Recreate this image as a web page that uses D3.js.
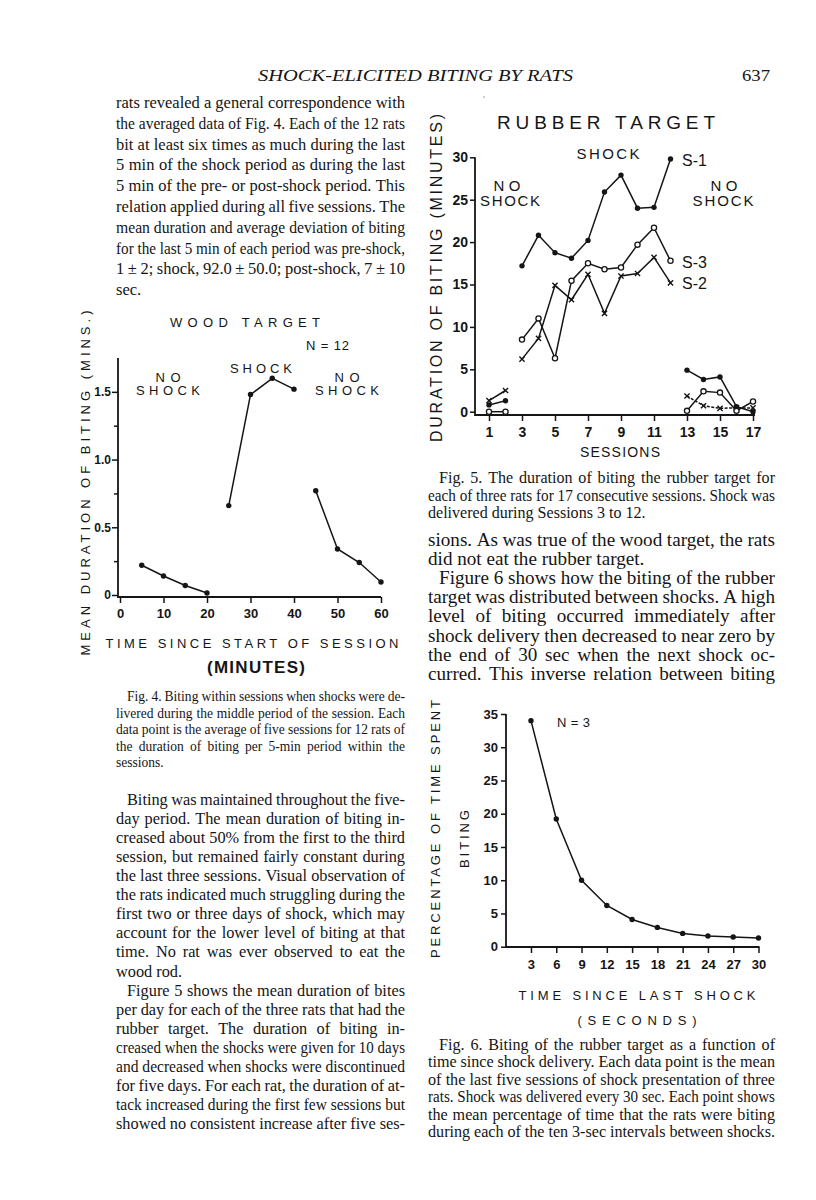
<!doctype html>
<html>
<head>
<meta charset="utf-8">
<script src="https://d3js.org/d3.v7.min.js"></script>
<style>
    body { margin: 0; background: #fff; }
</style>
</head>
<body>
<svg width="816" height="1200" id="page"></svg>
<script>
// ---- Fig. 4, wood target (minutes into session / mean minutes biting)
var woodPreX = [5, 10, 15, 20];
var woodPreY = [0.22, 0.14, 0.07, 0.015];
var woodShockX = [25, 30, 35, 40];
var woodShockY = [0.66, 1.48, 1.6, 1.52];
var woodPostX = [45, 50, 55, 60];
var woodPostY = [0.77, 0.34, 0.24, 0.096];
var woodXTicks = [0, 10, 20, 30, 40, 50, 60];
var woodYTicks = [0, 0.5, 1.0, 1.5];
var woodYLabels = ["0", "0.5", "1.0", "1.5"];
var woodYMinor = [0.25, 0.75, 1.25];

// ---- Fig. 5, rubber target (session / minutes biting)
var sessPre = [1, 2];
var sessShock = [3, 4, 5, 6, 7, 8, 9, 10, 11, 12];
var sessPost = [13, 14, 15, 16, 17];
var s1Pre = [0.8, 1.3];
var s2Pre = [1.3, 2.5];
var s3Pre = [0, 0];
var s1Shock = [17.2, 20.8, 18.75, 18.1, 20.2, 25.9, 27.9, 24.0, 24.1, 29.8];
var s2Shock = [6.2, 8.65, 14.9, 13.2, 16.2, 11.6, 16.0, 16.3, 18.2, 15.2];
var s3Shock = [8.5, 11.0, 6.3, 15.45, 17.5, 16.8, 17.0, 19.7, 21.7, 17.8];
var s1Post = [4.9, 3.8, 4.1, 0.6, 0];
var s2Post = [1.85, 0.7, 0.4, 0.45, 0.45];
var s3Post = [0.1, 2.4, 2.25, 0.1, 1.2];
var rubberXTicks = [1, 3, 5, 7, 9, 11, 13, 15, 17];
var rubberYTicks = [0, 5, 10, 15, 20, 25, 30];

// ---- Fig. 6, seconds since shock / percentage of time biting
var secs = [3, 6, 9, 12, 15, 18, 21, 24, 27, 30];
var pctBiting = [34.0, 19.2, 10.0, 6.2, 4.1, 2.9, 2.0, 1.6, 1.45, 1.3];
var secXTicks = [3, 6, 9, 12, 15, 18, 21, 24, 27, 30];
var pctYTicks = [0, 5, 10, 15, 20, 25, 30, 35];

// ---- page text
var topPara = [
    "rats revealed a general correspondence with",
    "the averaged data of Fig. 4. Each of the 12 rats",
    "bit at least six times as much during the last",
    "5 min of the shock period as during the last",
    "5 min of the pre- or post-shock period. This",
    "relation applied during all five sessions. The",
    "mean duration and average deviation of biting",
    "for the last 5 min of each period was pre-shock,",
    "1 \u00b1 2; shock, 92.0 \u00b1 50.0; post-shock, 7 \u00b1 10",
    "sec."
];
var fig4Caption = [
    "Fig. 4. Biting within sessions when shocks were de-",
    "livered during the middle period of the session. Each",
    "data point is the average of five sessions for 12 rats of",
    "the duration of biting per 5-min period within the",
    "sessions."
];
var leftBody = [
    "Biting was maintained throughout the five-",
    "day period. The mean duration of biting in-",
    "creased about 50% from the first to the third",
    "session, but remained fairly constant during",
    "the last three sessions. Visual observation of",
    "the rats indicated much struggling during the",
    "first two or three days of shock, which may",
    "account for the lower level of biting at that",
    "time. No rat was ever observed to eat the",
    "wood rod.",
    "Figure 5 shows the mean duration of bites",
    "per day for each of the three rats that had the",
    "rubber target. The duration of biting in-",
    "creased when the shocks were given for 10 days",
    "and decreased when shocks were discontinued",
    "for five days. For each rat, the duration of at-",
    "tack increased during the first few sessions but",
    "showed no consistent increase after five ses-"
];
var fig5Caption = [
    "Fig. 5. The duration of biting the rubber target for",
    "each of three rats for 17 consecutive sessions. Shock was",
    "delivered during Sessions 3 to 12."
];
var rightBody = [
    "sions. As was true of the wood target, the rats",
    "did not eat the rubber target.",
    "Figure 6 shows how the biting of the rubber",
    "target was distributed between shocks. A high",
    "level of biting occurred immediately after",
    "shock delivery then decreased to near zero by",
    "the end of 30 sec when the next shock oc-",
    "curred. This inverse relation between biting"
];
var fig6Caption = [
    "Fig. 6. Biting of the rubber target as a function of",
    "time since shock delivery. Each data point is the mean",
    "of the last five sessions of shock presentation of three",
    "rats. Shock was delivered every 30 sec. Each point shows",
    "the mean percentage of time that the rats were biting",
    "during each of the ten 3-sec intervals between shocks."
];

var SANS = "'Liberation Sans', Arial, sans-serif";
var SERIF = "'Liberation Serif', 'Times New Roman', serif";
var INK = "#151515";

var svg = d3.select("#page");
svg.append("rect").attr("width", 816).attr("height", 1200).attr("fill", "#fff");

function label(x, y, txt, o) {
    o = o || {};
    var t = svg.append("text")
        .attr("x", x).attr("y", y)
        .attr("font-family", o.family || SANS)
        .attr("font-size", o.size || 13)
        .attr("font-weight", o.weight || "normal")
        .attr("font-style", o.style || "normal")
        .attr("text-anchor", o.anchor || "start")
        .attr("fill", INK)
        .text(txt);
    if (o.len) t.attr("textLength", o.len).attr("lengthAdjust", o.adjust || "spacing");
    if (o.rotate) t.attr("transform", "rotate(-90," + x + "," + y + ")");
    return t;
}

function measure(s, size) {
    var t = svg.append("text").attr("font-family", SERIF).attr("font-size", size).text(s);
    var w = t.node().getComputedTextLength();
    t.remove();
    return w;
}

// text block; lines not in `ragged` are justified by spreading the words.
// size "auto" picks the font size at which a typical line fills the column.
function block(lines, x, width, y0, lh, size, indent, ragged) {
    var indOf = function(i) { return indent.indexOf(i) >= 0 ? 11 : 0; };
    if (size === "auto") {
        var ratios = [];
        lines.forEach(function(s, i) {
            if (ragged.indexOf(i) < 0) ratios.push((width - indOf(i)) / measure(s, 100) * 100);
        });
        size = d3.median(ratios);
    }
    lines.forEach(function(s, i) {
        var ind = indOf(i);
        var w = width - ind;
        var t = svg.append("text")
            .attr("x", x + ind).attr("y", y0 + i * lh)
            .attr("font-family", SERIF).attr("font-size", size)
            .attr("fill", INK);
        if (ragged.indexOf(i) >= 0) { t.text(s); return; }
        var words = s.split(" ");
        var spans = words.map(function(wd) { return t.append("tspan").text(wd); });
        var widths = spans.map(function(sp) { return sp.node().getComputedTextLength(); });
        var gap = (w - d3.sum(widths)) / (words.length - 1);
        if (gap < size * 0.14) {
            // too long for the column: squeeze the whole line
            t.selectAll("tspan").remove();
            t.text(s).attr("textLength", w).attr("lengthAdjust", "spacingAndGlyphs");
            return;
        }
        var pos = x + ind;
        spans.forEach(function(sp, k) {
            sp.attr("x", pos);
            pos += widths[k] + gap;
        });
    });
}

function styleAxis(g, size) {
    g.select(".domain").remove();
    g.selectAll(".tick line").attr("stroke", INK).attr("stroke-width", 1.5);
    g.selectAll(".tick text").attr("font-family", SANS).attr("font-weight", "bold")
        .attr("font-size", size).attr("fill", INK);
}

function axisLines(x0, y0, x1, y1) {
    svg.append("path")
        .attr("d", "M" + x0 + "," + y1 + "L" + x0 + "," + y0 + "L" + x1 + "," + y0)
        .attr("fill", "none").attr("stroke", INK).attr("stroke-width", 1.8);
}

function plotLine(xs, ys, xScale, yScale, marker, dash) {
    var pts = xs.map(function(d, i) { return [d, ys[i]]; });
    var line = d3.line()
        .x(function(d) { return xScale(d[0]); })
        .y(function(d) { return yScale(d[1]); });
    svg.append("path").attr("d", line(pts))
        .attr("fill", "none").attr("stroke", INK).attr("stroke-width", 1.5)
        .attr("stroke-dasharray", dash || null);
    pts.forEach(function(p) {
        var cx = xScale(p[0]), cy = yScale(p[1]);
        if (marker === "dot") {
            svg.append("circle").attr("cx", cx).attr("cy", cy).attr("r", 2.7).attr("fill", INK);
        } else if (marker === "open") {
            svg.append("circle").attr("cx", cx).attr("cy", cy).attr("r", 2.6)
                .attr("fill", "#fff").attr("stroke", INK).attr("stroke-width", 1.3);
        } else {
            var r = 2.6;
            svg.append("path")
                .attr("d", "M" + (cx - r) + "," + (cy - r) + "L" + (cx + r) + "," + (cy + r) +
                           "M" + (cx - r) + "," + (cy + r) + "L" + (cx + r) + "," + (cy - r))
                .attr("stroke", INK).attr("stroke-width", 1.4);
        }
    });
}

// ---------- header
label(258, 81, "SHOCK-ELICITED BITING BY RATS", {family: SERIF, style: "italic", size: 16, len: 315, adjust: "spacingAndGlyphs"});
label(742, 81, "637", {family: SERIF, size: 16, len: 28, adjust: "spacingAndGlyphs"});
svg.append("circle").attr("cx", 484).attr("cy", 97).attr("r", 0.7).attr("fill", "#777");

// ---------- text
block(topPara, 116, 289, 108, 20.8, 16.5, [], [9]);
block(fig4Caption, 116, 289, 701, 16.6, "auto", [0], [4]);
block(leftBody, 116, 289, 805, 19.06, "auto", [0, 10], [9]);
block(fig5Caption, 428, 347, 483, 17.5, "auto", [0], [2]);
block(rightBody, 428, 347, 546, 19.1, "auto", [2], [1]);
block(fig6Caption, 428, 347, 1050, 17.4, "auto", [0], []);

// ---------- Fig. 4
var x4 = d3.scaleLinear().domain([0, 60]).range([120, 381]);
var y4 = d3.scaleLinear().domain([0, 1.75]).range([595, 358]);

var gy4 = svg.append("g").attr("transform", "translate(118,0)")
    .call(d3.axisLeft(y4).tickValues(woodYTicks).tickSize(6).tickPadding(1)
        .tickFormat(function(d, i) { return woodYLabels[i]; }));
styleAxis(gy4, 12);
var gy4m = svg.append("g").attr("transform", "translate(118,0)")
    .call(d3.axisLeft(y4).tickValues(woodYMinor).tickSize(4).tickFormat(""));
styleAxis(gy4m, 12);
var gx4 = svg.append("g").attr("transform", "translate(0,597)")
    .call(d3.axisBottom(x4).tickValues(woodXTicks).tickSize(6).tickPadding(6));
styleAxis(gx4, 13);
axisLines(118, 597, x4(60), y4(1.75));

plotLine(woodPreX, woodPreY, x4, y4, "dot");
plotLine(woodShockX, woodShockY, x4, y4, "dot");
plotLine(woodPostX, woodPostY, x4, y4, "dot");

label(245, 327, "WOOD TARGET", {anchor: "middle", len: 150});
label(306, 350, "N = 12", {len: 43});
label(168, 382, "NO", {anchor: "middle", len: 25});
label(168, 395, "SHOCK", {anchor: "middle", len: 64});
label(261, 373, "SHOCK", {anchor: "middle", len: 62});
label(347, 382, "NO", {anchor: "middle", len: 25});
label(347, 395, "SHOCK", {anchor: "middle", len: 64});
label(252, 648, "TIME SINCE START OF SESSION", {anchor: "middle", len: 293});
label(256, 673, "(MINUTES)", {anchor: "middle", size: 17, weight: "bold", len: 98});
label(90, 483, "MEAN DURATION OF BITING (MINS.)", {anchor: "middle", len: 345, rotate: true});

// ---------- Fig. 5
var x5 = d3.scaleLinear().domain([1, 17]).range([489, 753]);
var y5 = d3.scaleLinear().domain([0, 30]).range([411.7, 157.3]);

var gy5 = svg.append("g").attr("transform", "translate(475,0)")
    .call(d3.axisLeft(y5).tickValues(rubberYTicks).tickSize(5).tickPadding(2));
styleAxis(gy5, 14);
var gx5 = svg.append("g").attr("transform", "translate(0,415)")
    .call(d3.axisBottom(x5).tickValues(rubberXTicks).tickSize(6).tickPadding(6));
styleAxis(gx5, 14);
axisLines(475, 415, x5(17) + 2, y5(30));

plotLine(sessPre, s3Pre, x5, y5, "open");
plotLine(sessPre, s1Pre, x5, y5, "dot");
plotLine(sessPre, s2Pre, x5, y5, "cross");
plotLine(sessShock, s1Shock, x5, y5, "dot");
plotLine(sessShock, s3Shock, x5, y5, "open");
plotLine(sessShock, s2Shock, x5, y5, "cross");
plotLine(sessPost, s1Post, x5, y5, "dot");
plotLine(sessPost, s2Post, x5, y5, "cross", "3,1.5");
plotLine(sessPost, s3Post, x5, y5, "open");

label(606, 129, "RUBBER TARGET", {anchor: "middle", size: 19, len: 218});
label(608, 159, "SHOCK", {anchor: "middle", size: 15, len: 63});
label(682, 166, "S-1", {size: 16});
label(507, 191, "NO", {anchor: "middle", size: 15, len: 27});
label(510, 206, "SHOCK", {anchor: "middle", size: 15, len: 60});
label(724, 191, "NO", {anchor: "middle", size: 15, len: 27});
label(723, 206, "SHOCK", {anchor: "middle", size: 15, len: 61});
label(682, 268, "S-3", {size: 16});
label(682, 289, "S-2", {size: 16});
label(620, 457, "SESSIONS", {anchor: "middle", size: 14, len: 80});
label(442, 278, "DURATION OF BITING (MINUTES)", {anchor: "middle", size: 16, len: 328, rotate: true});

// ---------- Fig. 6
var x6 = d3.scaleLinear().domain([0, 30]).range([505.7, 758.5]);
var y6 = d3.scaleLinear().domain([0, 35]).range([946.7, 714]);

var gy6 = svg.append("g").attr("transform", "translate(506,0)")
    .call(d3.axisLeft(y6).tickValues(pctYTicks).tickSize(5).tickPadding(3));
styleAxis(gy6, 13);
var gx6 = svg.append("g").attr("transform", "translate(0,947)")
    .call(d3.axisBottom(x6).tickValues(secXTicks).tickSize(6).tickPadding(7));
styleAxis(gx6, 13);
axisLines(506, 947, x6(30) + 1, y6(35));

plotLine(secs, pctBiting, x6, y6, "dot");

label(557, 727, "N = 3", {len: 33});
label(637, 1000, "TIME SINCE LAST SHOCK", {anchor: "middle", len: 237});
label(637, 1025, "(SECONDS)", {anchor: "middle", len: 119});
label(440, 829, "PERCENTAGE OF TIME SPENT", {anchor: "middle", len: 258, rotate: true});
label(469, 839, "BITING", {anchor: "middle", len: 58, rotate: true});
</script>
</body>
</html>
